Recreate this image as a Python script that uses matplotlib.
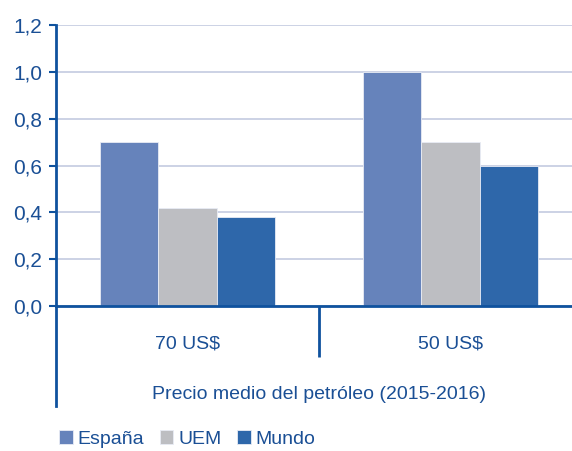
import matplotlib
matplotlib.use("Agg")
import matplotlib.pyplot as plt
import numpy as np
from matplotlib.lines import Line2D

plt.rcParams['font.family'] = ['Liberation Sans', 'DejaVu Sans']

categories = ["70 US$", "50 US$"]
series_names = ["España", "UEM", "Mundo"]
espana = [0.70, 1.00]
uem = [0.42, 0.70]
mundo = [0.38, 0.60]
yticks = [0.0, 0.2, 0.4, 0.6, 0.8, 1.0, 1.2]
ytick_labels = ["0,0", "0,2", "0,4", "0,6", "0,8", "1,0", "1,2"]
xlabel = "Precio medio del petróleo (2015-2016)"

colors = ["#6683BB", "#BDBEC2", "#2E67AA"]
axis_col = "#0F529E"
text_col = "#1A4F95"
grid_col = "#C8CFE3"

W, H = 572, 451
fig = plt.figure(figsize=(W / 100, H / 100), dpi=100)
x0, x1 = 56, 582
y0, y1 = 306, 25
ax = fig.add_axes([x0 / W, 1 - y0 / H, (x1 - x0) / W, (y0 - y1) / H])

x = np.arange(len(categories))
bw = 0.222
for i, (vals, name) in enumerate(zip([espana, uem, mundo], series_names)):
    ax.bar(x + (i - 1) * bw, vals, bw, color=colors[i], label=name,
           edgecolor="#E8ECF5", linewidth=0.6, zorder=3)

ax.set_xlim(-0.5, 1.5)
ax.set_ylim(0, 1.2)
ax.set_yticks(yticks)
ax.set_yticklabels(ytick_labels)
ax.yaxis.grid(True, color=grid_col, linewidth=1.3, zorder=0)
ax.set_axisbelow(True)

for s in ["top", "right"]:
    ax.spines[s].set_visible(False)
ax.spines["left"].set_color(axis_col)
ax.spines["left"].set_linewidth(2)
ax.spines["bottom"].set_color(axis_col)
ax.spines["bottom"].set_linewidth(2)
ax.spines["bottom"].set_zorder(5)

ax.tick_params(axis="y", colors=axis_col, labelcolor=text_col, length=5,
               width=1.5, pad=5, labelsize=15)
ax.set_xticks(x)
ax.set_xticklabels(categories)
ax.tick_params(axis="x", length=0, pad=21, labelcolor=text_col, labelsize=14)
ax.set_xticks([0.5], minor=True)
ax.tick_params(axis="x", which="minor", length=37, width=2, color=axis_col)

# extend left spine downwards
ax.add_line(Line2D([0, 0], [0, -100 / (y0 - y1) * 1.2], transform=ax.get_yaxis_transform(which='grid'),
                   color=axis_col, linewidth=2, clip_on=False))

ax.set_xlabel(xlabel, color=text_col, fontsize=14, labelpad=17)

fig.legend(loc="center left", bbox_to_anchor=(59 / W, 1 - 439 / H), ncol=3,
           frameon=False, handlelength=0.7, handleheight=0.7,
           handletextpad=0.25, columnspacing=0.8, fontsize=14,
           labelcolor=text_col, borderaxespad=0, borderpad=0)

fig.savefig("out.png", dpi=100)
